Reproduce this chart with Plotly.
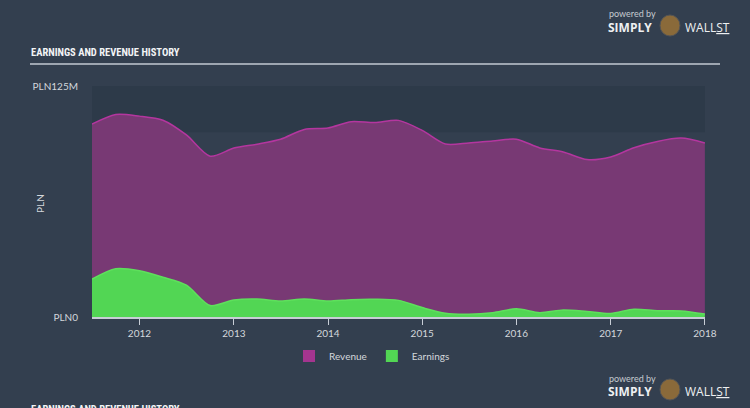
import plotly.graph_objects as go

dates = ["2011-07-01", "2011-10-01", "2012-01-01", "2012-04-01", "2012-07-01", "2012-10-01",
         "2013-01-01", "2013-04-01", "2013-07-01", "2013-10-01", "2014-01-01", "2014-04-01",
         "2014-07-01", "2014-10-01", "2015-01-01", "2015-04-01", "2015-07-01", "2015-10-01",
         "2016-01-01", "2016-04-01", "2016-07-01", "2016-10-01", "2017-01-01", "2017-04-01",
         "2017-07-01", "2017-10-01", "2018-01-01"]
revenue = [104.4, 109.6, 108.7, 106.5, 98.5, 87.0, 91.4, 93.5, 96.2, 101.5, 102.3, 105.7,
           105.2, 106.4, 101.0, 93.6, 94.2, 95.3, 96.2, 91.5, 89.3, 85.2, 86.6, 91.6,
           95.0, 96.8, 94.2]
earnings = [20.5, 26.1, 25.0, 21.5, 17.2, 6.2, 9.2, 9.7, 8.6, 9.7, 8.6, 9.4,
            9.6, 9.0, 5.1, 2.0, 1.5, 2.3, 4.4, 2.3, 3.8, 3.0, 1.9, 4.2,
            3.4, 3.3, 1.6]
y_ticks = [0, 125]
y_tick_text = ["PLN0", "PLN125M"]
x_ticks = ["2012-01-01", "2013-01-01", "2014-01-01", "2015-01-01", "2016-01-01", "2017-01-01", "2018-01-01"]
x_tick_text = ["2012", "2013", "2014", "2015", "2016", "2017", "2018"]

BG = "#333f4f"
TXT = "#d3d7dc"
FONT = "Lato, 'Noto Sans', sans-serif"
TITLE_FONT = "'Roboto Condensed', 'Liberation Sans Narrow', Roboto, sans-serif"
REV_FILL, REV_LINE = "#783974", "#b4369f"
EARN_FILL, EARN_LINE = "#52d654", "#5ee05c"

fig = go.Figure()
fig.add_trace(go.Scatter(x=dates, y=revenue, name="Revenue", mode="lines", showlegend=False,
                         line=dict(color=REV_LINE, width=1.5, shape="spline", smoothing=0.8),
                         fill="tozeroy", fillcolor=REV_FILL))
fig.add_trace(go.Scatter(x=dates, y=earnings, name="Earnings", mode="lines", showlegend=False,
                         line=dict(color=EARN_LINE, width=1.5, shape="spline", smoothing=0.8),
                         fill="tozeroy", fillcolor=EARN_FILL))
# legend entries (square swatches)
fig.add_trace(go.Bar(x=[None], y=[None], name="Revenue", marker=dict(color="#a4358f", line=dict(width=0))))
fig.add_trace(go.Bar(x=[None], y=[None], name="Earnings", marker=dict(color=EARN_FILL, line=dict(width=0))))

# plot geometry (pixels) : left 92, right 705, top 86, bottom 317
L, R, T, B = 92, 705, 86, 317
def px(x):
    return (x - L) / (R - L)
def py(y):
    return (B - y) / (B - T)

shapes = [
    dict(type="rect", xref="paper", yref="y", x0=0, x1=1, y0=100, y1=125,
         fillcolor="#2d3a49", line=dict(width=0), layer="below"),
    dict(type="line", xref="paper", yref="paper", x0=px(30), x1=px(720), y0=py(64), y1=py(64),
         line=dict(color="#c3cad2", width=1.5)),
    dict(type="circle", xref="paper", yref="paper", x0=px(660), x1=px(680), y0=py(36), y1=py(15),
         fillcolor="#8a6a3a", line=dict(color="#555", width=1)),
    dict(type="circle", xref="paper", yref="paper", x0=px(660), x1=px(680), y0=py(400), y1=py(379),
         fillcolor="#8a6a3a", line=dict(color="#555", width=1)),
]

def logo(ytop):
    return [
        dict(text="powered by", x=px(607), y=py(ytop + 5), xref="paper", yref="paper",
             xanchor="left", yanchor="middle", showarrow=False,
             font=dict(family=FONT, size=9, color="#c5cad0")),
        dict(text="<b>SIMPLY</b>", x=px(606), y=py(ytop + 18), xref="paper", yref="paper",
             xanchor="left", yanchor="middle", showarrow=False,
             font=dict(family="'Open Sans', sans-serif", size=12, color="#eef0f2")),
        dict(text="WALL<u>ST</u>", x=px(683), y=py(ytop + 18), xref="paper", yref="paper",
             xanchor="left", yanchor="middle", showarrow=False,
             font=dict(family="'Open Sans', sans-serif", size=12, color="#eef0f2")),
    ]

annotations = [
    dict(text="<b>EARNINGS AND REVENUE HISTORY</b>", x=px(29), y=py(52), xref="paper", yref="paper",
         xanchor="left", yanchor="middle", showarrow=False,
         font=dict(family=TITLE_FONT, size=10.5, color="#f2f4f6")),
    dict(text="PLN", x=px(40), y=py(203), xref="paper", yref="paper", textangle=-90,
         xanchor="center", yanchor="middle", showarrow=False,
         font=dict(family=FONT, size=10, color=TXT)),
    dict(text="<b>EARNINGS AND REVENUE HISTORY</b>", x=px(29), y=py(409), xref="paper", yref="paper",
         xanchor="left", yanchor="middle", showarrow=False,
         font=dict(family=TITLE_FONT, size=10.5, color="#f2f4f6")),
] + logo(9) + logo(373)

fig.update_layout(
    width=750, height=408,
    margin=dict(l=L, r=750 - R, t=T, b=408 - B, autoexpand=False),
    paper_bgcolor=BG, plot_bgcolor=BG,
    font=dict(family=FONT, size=10, color=TXT),
    showlegend=True,
    legend=dict(orientation="h", x=px(372), xanchor="center",
                y=py(356), yanchor="middle", font=dict(size=10, color=TXT),
                bgcolor="rgba(0,0,0,0)", itemwidth=30, tracegroupgap=0),
    shapes=shapes, annotations=annotations,
    xaxis=dict(type="date", range=["2011-07-01", "2018-01-01 12:00"], tickvals=x_ticks, ticktext=x_tick_text,
               showgrid=False, zeroline=False, showline=True, linecolor="#c8ced6", linewidth=1.5,
               ticks="outside", ticklen=6, tickcolor="#c8ced6", tickangle=0, tickfont=dict(size=10, color=TXT)),
    yaxis=dict(range=[0, 125], tickvals=y_ticks, ticktext=y_tick_text, showgrid=False,
               zeroline=False, showline=False, ticks="outside", ticklen=11, tickcolor="rgba(0,0,0,0)",
               tickfont=dict(size=10, color=TXT)),
)

fig.write_html("out.html")
